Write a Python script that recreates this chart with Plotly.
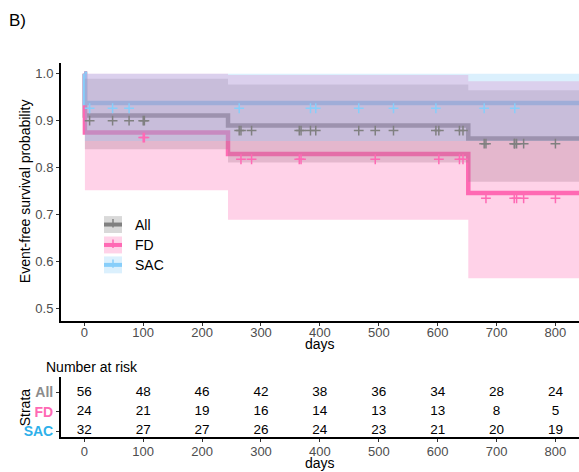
import plotly.graph_objects as go

# ---------------- data ----------------
groups = ["All", "FD", "SAC"]

# Kaplan-Meier step times and estimates
step_times = {
    "All": [0, 1, 244, 652],
    "FD": [0, 1, 244, 652],
    "SAC": [0, 1],
}
surv = {
    "All": [1.0, 0.911, 0.890, 0.862],
    "FD": [1.0, 0.875, 0.829, 0.746],
    "SAC": [1.0, 0.9375],
}
lower = {
    "All": [1.0, 0.839, 0.811, 0.770],
    "FD": [1.0, 0.752, 0.689, 0.565],
    "SAC": [1.0, 0.857],
}
upper = {
    "All": [1.0, 0.989, 0.977, 0.965],
    "FD": [1.0, 1.0, 0.997, 0.984],
    "SAC": [1.0, 1.0],
}
# censoring times
censor_times = {
    "All": [9, 48, 76, 100, 102, 263, 266, 284, 365, 368, 384, 393, 466, 494,
            525, 597, 602, 637, 643, 679, 682, 730, 731, 734, 746, 800],
    "FD": [100, 102, 266, 284, 365, 368, 494, 602, 637, 643, 682, 730, 734, 746, 800],
    "SAC": [9, 48, 76, 263, 384, 393, 466, 525, 597, 679, 731],
}
# number at risk table
risk_times = [0, 100, 200, 300, 400, 500, 600, 700, 800]
n_risk = {
    "All": [56, 48, 46, 42, 38, 36, 34, 28, 24],
    "FD": [24, 21, 19, 16, 14, 13, 13, 8, 5],
    "SAC": [32, 27, 27, 26, 24, 23, 21, 20, 19],
}
x_ticks = [0, 100, 200, 300, 400, 500, 600, 700, 800]
y_ticks = [0.5, 0.6, 0.7, 0.8, 0.9, 1.0]
y_ticklabels = ["0.5", "0.6", "0.7", "0.8", "0.9", "1.0"]

# ---------------- style ----------------
W, H = 579, 472
X_RANGE = [-39.6, 840]
Y_RANGE = [0.4746, 1.0233]
X_END = X_RANGE[1]
line_col = {"All": "#808080", "FD": "#FF69B4", "SAC": "#87CEFA"}
label_col = {"All": "#8C8C8C", "FD": "#FF69B4", "SAC": "#2EB0EA"}


def rgba(hexc, a):
    h = hexc.lstrip("#")
    r, g, b = int(h[0:2], 16), int(h[2:4], 16), int(h[4:6], 16)
    return f"rgba({r},{g},{b},{a})"


band_col = {g: rgba(line_col[g], 0.3) for g in groups}
MARK_DY = 0.011  # the "+" glyphs sit slightly below the curve in the original
FONT = "Liberation Sans, Arial, sans-serif"


def px_x(p):
    return p / W


def px_y(p):
    return 1 - p / H


def surv_at(g, t):
    val = surv[g][0]
    for st, sv in zip(step_times[g], surv[g]):
        if t >= st:
            val = sv
    return val


fig = go.Figure()

# curves
for g in groups:
    fig.add_trace(go.Scatter(
        x=step_times[g] + [X_END], y=surv[g] + [surv[g][-1]],
        mode="lines", line=dict(color=line_col[g], width=4.5, shape="hv"),
        showlegend=False, hoverinfo="skip", xaxis="x", yaxis="y"))

# confidence bands (drawn above the curves, translucent)
for g in groups:
    fig.add_trace(go.Scatter(
        x=step_times[g] + [X_END], y=lower[g] + [lower[g][-1]],
        mode="lines", line=dict(width=0, shape="hv", color=band_col[g]),
        showlegend=False, hoverinfo="skip", xaxis="x", yaxis="y"))
    fig.add_trace(go.Scatter(
        x=step_times[g] + [X_END], y=upper[g] + [upper[g][-1]],
        mode="lines", line=dict(width=0, shape="hv", color=band_col[g]),
        fill="tonexty", fillcolor=band_col[g],
        showlegend=False, hoverinfo="skip", xaxis="x", yaxis="y"))

# censor marks
for g in groups:
    fig.add_trace(go.Scatter(
        x=censor_times[g],
        y=[surv_at(g, t) - MARK_DY for t in censor_times[g]],
        mode="markers",
        marker=dict(symbol="cross-thin", size=7,
                    line=dict(color=line_col[g], width=1.5)),
        showlegend=False, hoverinfo="skip", xaxis="x", yaxis="y"))

# risk table
row_y = {"All": 3, "FD": 2, "SAC": 1}
for g in groups:
    fig.add_trace(go.Scatter(
        x=risk_times, y=[row_y[g]] * len(risk_times),
        mode="text", text=[str(v) for v in n_risk[g]],
        textfont=dict(family=FONT, size=13.5, color="black"),
        showlegend=False, hoverinfo="skip", xaxis="x2", yaxis="y2"))

axis_common = dict(showline=True, linecolor="black", linewidth=2,
                   ticks="outside", ticklen=3, tickwidth=1, tickcolor="#333333",
                   showgrid=False, zeroline=False,
                   tickfont=dict(family=FONT, size=13, color="#4D4D4D"))

x_dom = [px_x(61), 1.0]
fig.update_layout(
    width=W, height=H, margin=dict(l=0, r=0, t=0, b=0),
    paper_bgcolor="white", plot_bgcolor="white", showlegend=False,
    xaxis=dict(domain=x_dom, range=X_RANGE, tickvals=x_ticks, anchor="y",
               ticklabelstandoff=-4, **axis_common),
    yaxis=dict(domain=[px_y(322), px_y(63)], range=Y_RANGE, tickvals=y_ticks,
               ticktext=y_ticklabels, anchor="x", **axis_common),
    xaxis2=dict(domain=x_dom, range=X_RANGE, tickvals=x_ticks, anchor="y2",
                ticklabelstandoff=-2, **axis_common),
    yaxis2=dict(domain=[px_y(439), px_y(379)], range=[0.69, 3.77],
                tickvals=[row_y[g] for g in groups],
                ticktext=[f"<b><span style='color:{label_col[g]}'>{g}</span></b>" for g in groups],
                anchor="x2", **{**axis_common, "tickfont": dict(family=FONT, size=14)},
                ),
)

# legend drawn manually
leg_y = {"All": 225.5, "FD": 246, "SAC": 266}
shapes = []
annos = []
for g in groups:
    yc = leg_y[g]
    shapes.append(dict(type="rect", xref="paper", yref="paper",
                       x0=px_x(104), x1=px_x(122), y0=px_y(yc - 8.5), y1=px_y(yc + 8.5),
                       fillcolor=band_col[g], line=dict(width=0), layer="above"))
    shapes.append(dict(type="line", xref="paper", yref="paper",
                       x0=px_x(104), x1=px_x(122), y0=px_y(yc), y1=px_y(yc),
                       line=dict(color=line_col[g], width=4), layer="above"))
    shapes.append(dict(type="line", xref="paper", yref="paper",
                       x0=px_x(113), x1=px_x(113), y0=px_y(yc - 5.5), y1=px_y(yc + 3),
                       line=dict(color=line_col[g], width=1.5), layer="above"))
    annos.append(dict(text=g, xref="paper", yref="paper", x=px_x(133), y=px_y(yc),
                      xanchor="left", yanchor="middle", showarrow=False,
                      font=dict(family=FONT, size=14, color="black")))

annos += [
    dict(text="B)", xref="paper", yref="paper", x=px_x(7), y=px_y(20.5),
         xanchor="left", yanchor="middle", showarrow=False,
         font=dict(family=FONT, size=17, color="black")),
    dict(text="Event-free survival probability", xref="paper", yref="paper",
         x=px_x(25), y=px_y(192), textangle=-90, xanchor="center", yanchor="middle",
         showarrow=False, font=dict(family=FONT, size=14, color="black")),
    dict(text="days", xref="paper", yref="paper", x=px_x(320), y=px_y(345),
         xanchor="center", yanchor="middle", showarrow=False,
         font=dict(family=FONT, size=14, color="black")),
    dict(text="Number at risk", xref="paper", yref="paper", x=px_x(44), y=px_y(369),
         xanchor="left", yanchor="middle", showarrow=False,
         font=dict(family=FONT, size=14, color="black")),
    dict(text="Strata", xref="paper", yref="paper", x=px_x(25), y=px_y(409),
         textangle=-90, xanchor="center", yanchor="middle", showarrow=False,
         font=dict(family=FONT, size=14, color="black")),
    dict(text="days", xref="paper", yref="paper", x=px_x(320), y=px_y(465),
         xanchor="center", yanchor="middle", showarrow=False,
         font=dict(family=FONT, size=14, color="black")),
]
fig.update_layout(shapes=shapes, annotations=annos)

fig.write_html("out.html", config={"displayModeBar": False},
               post_script="document.body.style.margin='0';document.body.style.overflow='hidden';")
